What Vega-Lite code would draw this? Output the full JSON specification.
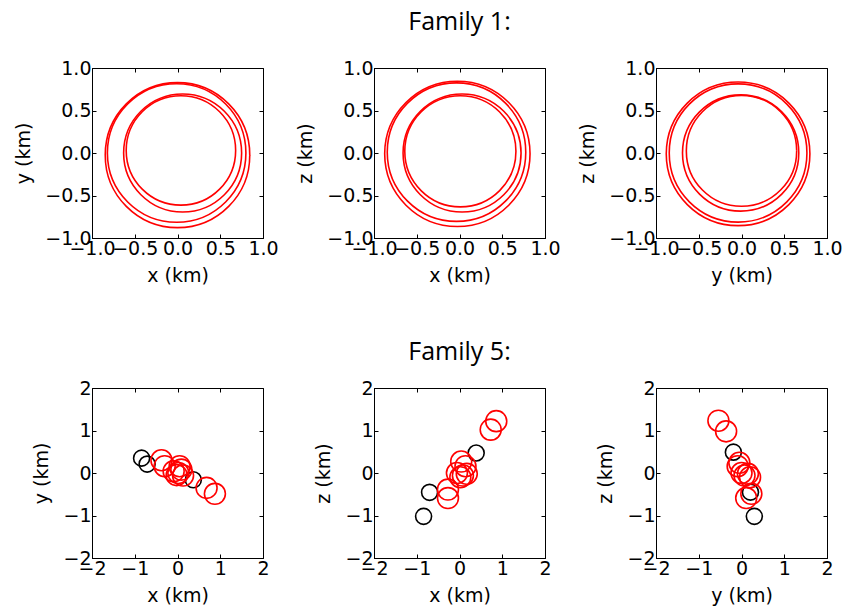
{
  "$schema": "https://vega.github.io/schema/vega-lite/v6.json",
  "background": "white",
  "padding": {"left": 14, "top": 9, "right": 5, "bottom": 5},
  "bounds": "flush",
  "columns": 3,
  "spacing": {"row": 150, "column": 111},
  "config": {
    "view": {"stroke": "#000", "strokeWidth": 1},
    "axis": {
      "labelFont": "DejaVu Sans", "labelFontSize": 19, "labelColor": "#000",
      "titleFont": "DejaVu Sans", "titleFontSize": 19, "titleFontWeight": "normal", "titleColor": "#000",
      "tickColor": "#000", "tickSize": -4, "tickWidth": 1, "domainColor": "#000",
      "grid": false, "labelOverlap": false, "labelFlush": false, "labelPadding": 5
    },
    "axisX": {"titlePadding": 8},
    "axisY": {"titlePadding": 11},
    "title": {"font": "Open Sans", "fontSize": 25, "fontWeight": "normal", "color": "#000", "anchor": "middle", "offset": 24}
  },
  "datasets": {
    "circles": [
      {"panel": "xy", "h": 0.00, "v": -0.025, "r": 0.845},
      {"panel": "xy", "h": -0.01, "v": 0.0, "r": 0.81},
      {"panel": "xy", "h": 0.06, "v": 0.0, "r": 0.69},
      {"panel": "xy", "h": 0.04, "v": 0.03, "r": 0.64},
      {"panel": "xz", "h": -0.025, "v": -0.01, "r": 0.85},
      {"panel": "xz", "h": -0.035, "v": 0.01, "r": 0.81},
      {"panel": "xz", "h": 0.03, "v": 0.0, "r": 0.69},
      {"panel": "xz", "h": 0.01, "v": 0.02, "r": 0.65},
      {"panel": "yz", "h": -0.04, "v": -0.01, "r": 0.84},
      {"panel": "yz", "h": -0.04, "v": 0.0, "r": 0.805},
      {"panel": "yz", "h": -0.01, "v": 0.0, "r": 0.68},
      {"panel": "yz", "h": 0.0, "v": 0.025, "r": 0.645}
    ],
    "points": [
      {"panel": "xy", "group": "black", "h": -0.84, "v": 0.35},
      {"panel": "xy", "group": "black", "h": -0.71, "v": 0.21},
      {"panel": "xy", "group": "black", "h": 0.37, "v": -0.16},
      {"panel": "xy", "group": "red", "h": -0.375, "v": 0.30},
      {"panel": "xy", "group": "red", "h": -0.30, "v": 0.16},
      {"panel": "xy", "group": "red", "h": -0.09, "v": 0.04},
      {"panel": "xy", "group": "red", "h": 0.05, "v": 0.16},
      {"panel": "xy", "group": "red", "h": 0.09, "v": 0.08},
      {"panel": "xy", "group": "red", "h": 0.02, "v": 0.0},
      {"panel": "xy", "group": "red", "h": 0.13, "v": -0.06},
      {"panel": "xy", "group": "red", "h": -0.02, "v": -0.05},
      {"panel": "xy", "group": "red", "h": 0.68, "v": -0.35},
      {"panel": "xy", "group": "red", "h": 0.875, "v": -0.49},
      {"panel": "xz", "group": "black", "h": -0.84, "v": -1.02},
      {"panel": "xz", "group": "black", "h": -0.70, "v": -0.455},
      {"panel": "xz", "group": "black", "h": 0.39, "v": 0.47},
      {"panel": "xz", "group": "red", "h": 0.86, "v": 1.22},
      {"panel": "xz", "group": "red", "h": 0.73, "v": 1.02},
      {"panel": "xz", "group": "red", "h": -0.27, "v": -0.39},
      {"panel": "xz", "group": "red", "h": -0.27, "v": -0.59},
      {"panel": "xz", "group": "red", "h": 0.04, "v": 0.27},
      {"panel": "xz", "group": "red", "h": 0.14, "v": 0.16},
      {"panel": "xz", "group": "red", "h": -0.06, "v": 0.0},
      {"panel": "xz", "group": "red", "h": 0.08, "v": -0.06},
      {"panel": "xz", "group": "red", "h": 0.17, "v": -0.02},
      {"panel": "xz", "group": "red", "h": 0.02, "v": -0.10},
      {"panel": "yz", "group": "black", "h": -0.19, "v": 0.49},
      {"panel": "yz", "group": "black", "h": 0.21, "v": -0.45},
      {"panel": "yz", "group": "black", "h": 0.30, "v": -1.02},
      {"panel": "yz", "group": "red", "h": -0.54, "v": 1.23},
      {"panel": "yz", "group": "red", "h": -0.36, "v": 0.98},
      {"panel": "yz", "group": "red", "h": -0.05, "v": 0.24},
      {"panel": "yz", "group": "red", "h": -0.09, "v": 0.16},
      {"panel": "yz", "group": "red", "h": 0.0, "v": 0.0},
      {"panel": "yz", "group": "red", "h": 0.15, "v": -0.02},
      {"panel": "yz", "group": "red", "h": 0.07, "v": -0.06},
      {"panel": "yz", "group": "red", "h": 0.20, "v": -0.10},
      {"panel": "yz", "group": "red", "h": 0.23, "v": -0.49},
      {"panel": "yz", "group": "red", "h": 0.11, "v": -0.59}
    ]
  },
  "concat": [
    {
      "data": {"name": "circles"}, "transform": [{"filter": "datum.panel === 'xy'"}],
      "width": 171, "height": 170,
      "layer": [
        {"mark": {"type": "point", "shape": "circle", "filled": false, "stroke": "#ff0000", "strokeWidth": 1.6, "opacity": 1},
         "encoding": {
           "x": {"field": "h", "type": "quantitative", "scale": {"domain": [-1, 1], "nice": false, "zero": false}, "axis": {"orient": "bottom", "title": "x (km)", "values": [-1, -0.5, 0, 0.5, 1], "format": ".1f"}},
           "y": {"field": "v", "type": "quantitative", "scale": {"domain": [-1, 1], "nice": false, "zero": false}, "axis": {"orient": "left", "title": "y (km)", "values": [-1, -0.5, 0, 0.5, 1], "format": ".1f"}},
           "size": {"field": "r", "type": "quantitative", "scale": {"type": "pow", "exponent": 2, "domain": [0, 1], "range": [0, 29241]}, "legend": null}
         }},
        {"mark": {"type": "point", "opacity": 0},
         "encoding": {
           "x": {"field": "h", "type": "quantitative", "scale": {"domain": [-1, 1], "nice": false, "zero": false}, "axis": {"orient": "top", "title": null, "labels": false, "domain": false, "values": [-1, -0.5, 0, 0.5, 1]}},
           "y": {"field": "v", "type": "quantitative", "scale": {"domain": [-1, 1], "nice": false, "zero": false}, "axis": {"orient": "right", "title": null, "labels": false, "domain": false, "values": [-1, -0.5, 0, 0.5, 1]}}
         }}
      ],
      "resolve": {"axis": {"x": "independent", "y": "independent"}}
    },
    {
      "title": {"text": "Family 1:", "offset": 24},
      "data": {"name": "circles"}, "transform": [{"filter": "datum.panel === 'xz'"}],
      "width": 171, "height": 170,
      "layer": [
        {"mark": {"type": "point", "shape": "circle", "filled": false, "stroke": "#ff0000", "strokeWidth": 1.6, "opacity": 1},
         "encoding": {
           "x": {"field": "h", "type": "quantitative", "scale": {"domain": [-1, 1], "nice": false, "zero": false}, "axis": {"orient": "bottom", "title": "x (km)", "values": [-1, -0.5, 0, 0.5, 1], "format": ".1f"}},
           "y": {"field": "v", "type": "quantitative", "scale": {"domain": [-1, 1], "nice": false, "zero": false}, "axis": {"orient": "left", "title": "z (km)", "values": [-1, -0.5, 0, 0.5, 1], "format": ".1f"}},
           "size": {"field": "r", "type": "quantitative", "scale": {"type": "pow", "exponent": 2, "domain": [0, 1], "range": [0, 29241]}, "legend": null}
         }},
        {"mark": {"type": "point", "opacity": 0},
         "encoding": {
           "x": {"field": "h", "type": "quantitative", "scale": {"domain": [-1, 1], "nice": false, "zero": false}, "axis": {"orient": "top", "title": null, "labels": false, "domain": false, "values": [-1, -0.5, 0, 0.5, 1]}},
           "y": {"field": "v", "type": "quantitative", "scale": {"domain": [-1, 1], "nice": false, "zero": false}, "axis": {"orient": "right", "title": null, "labels": false, "domain": false, "values": [-1, -0.5, 0, 0.5, 1]}}
         }}
      ],
      "resolve": {"axis": {"x": "independent", "y": "independent"}}
    },
    {
      "data": {"name": "circles"}, "transform": [{"filter": "datum.panel === 'yz'"}],
      "width": 171, "height": 170,
      "layer": [
        {"mark": {"type": "point", "shape": "circle", "filled": false, "stroke": "#ff0000", "strokeWidth": 1.6, "opacity": 1},
         "encoding": {
           "x": {"field": "h", "type": "quantitative", "scale": {"domain": [-1, 1], "nice": false, "zero": false}, "axis": {"orient": "bottom", "title": "y (km)", "values": [-1, -0.5, 0, 0.5, 1], "format": ".1f"}},
           "y": {"field": "v", "type": "quantitative", "scale": {"domain": [-1, 1], "nice": false, "zero": false}, "axis": {"orient": "left", "title": "z (km)", "values": [-1, -0.5, 0, 0.5, 1], "format": ".1f"}},
           "size": {"field": "r", "type": "quantitative", "scale": {"type": "pow", "exponent": 2, "domain": [0, 1], "range": [0, 29241]}, "legend": null}
         }},
        {"mark": {"type": "point", "opacity": 0},
         "encoding": {
           "x": {"field": "h", "type": "quantitative", "scale": {"domain": [-1, 1], "nice": false, "zero": false}, "axis": {"orient": "top", "title": null, "labels": false, "domain": false, "values": [-1, -0.5, 0, 0.5, 1]}},
           "y": {"field": "v", "type": "quantitative", "scale": {"domain": [-1, 1], "nice": false, "zero": false}, "axis": {"orient": "right", "title": null, "labels": false, "domain": false, "values": [-1, -0.5, 0, 0.5, 1]}}
         }}
      ],
      "resolve": {"axis": {"x": "independent", "y": "independent"}}
    },
    {
      "data": {"name": "points"}, "transform": [{"filter": "datum.panel === 'xy'"}],
      "width": 171, "height": 170,
      "layer": [
        {"mark": {"type": "point", "shape": "circle", "filled": false, "strokeWidth": 1.6, "opacity": 1},
         "encoding": {
           "x": {"field": "h", "type": "quantitative", "scale": {"domain": [-2, 2], "nice": false, "zero": false}, "axis": {"orient": "bottom", "title": "x (km)", "values": [-2, -1, 0, 1, 2], "format": "d"}},
           "y": {"field": "v", "type": "quantitative", "scale": {"domain": [-2, 2], "nice": false, "zero": false}, "axis": {"orient": "left", "title": "y (km)", "values": [-2, -1, 0, 1, 2], "format": "d"}},
           "stroke": {"field": "group", "type": "nominal", "scale": {"domain": ["black", "red"], "range": ["#000000", "#ff0000"]}, "legend": null},
           "size": {"field": "group", "type": "nominal", "scale": {"domain": ["black", "red"], "range": [256, 440]}, "legend": null}
         }},
        {"mark": {"type": "point", "opacity": 0},
         "encoding": {
           "x": {"field": "h", "type": "quantitative", "scale": {"domain": [-2, 2], "nice": false, "zero": false}, "axis": {"orient": "top", "title": null, "labels": false, "domain": false, "values": [-2, -1, 0, 1, 2]}},
           "y": {"field": "v", "type": "quantitative", "scale": {"domain": [-2, 2], "nice": false, "zero": false}, "axis": {"orient": "right", "title": null, "labels": false, "domain": false, "values": [-2, -1, 0, 1, 2]}}
         }}
      ],
      "resolve": {"axis": {"x": "independent", "y": "independent"}}
    },
    {
      "title": {"text": "Family 5:", "offset": 14},
      "data": {"name": "points"}, "transform": [{"filter": "datum.panel === 'xz'"}],
      "width": 171, "height": 170,
      "layer": [
        {"mark": {"type": "point", "shape": "circle", "filled": false, "strokeWidth": 1.6, "opacity": 1},
         "encoding": {
           "x": {"field": "h", "type": "quantitative", "scale": {"domain": [-2, 2], "nice": false, "zero": false}, "axis": {"orient": "bottom", "title": "x (km)", "values": [-2, -1, 0, 1, 2], "format": "d"}},
           "y": {"field": "v", "type": "quantitative", "scale": {"domain": [-2, 2], "nice": false, "zero": false}, "axis": {"orient": "left", "title": "z (km)", "values": [-2, -1, 0, 1, 2], "format": "d"}},
           "stroke": {"field": "group", "type": "nominal", "scale": {"domain": ["black", "red"], "range": ["#000000", "#ff0000"]}, "legend": null},
           "size": {"field": "group", "type": "nominal", "scale": {"domain": ["black", "red"], "range": [256, 440]}, "legend": null}
         }},
        {"mark": {"type": "point", "opacity": 0},
         "encoding": {
           "x": {"field": "h", "type": "quantitative", "scale": {"domain": [-2, 2], "nice": false, "zero": false}, "axis": {"orient": "top", "title": null, "labels": false, "domain": false, "values": [-2, -1, 0, 1, 2]}},
           "y": {"field": "v", "type": "quantitative", "scale": {"domain": [-2, 2], "nice": false, "zero": false}, "axis": {"orient": "right", "title": null, "labels": false, "domain": false, "values": [-2, -1, 0, 1, 2]}}
         }}
      ],
      "resolve": {"axis": {"x": "independent", "y": "independent"}}
    },
    {
      "data": {"name": "points"}, "transform": [{"filter": "datum.panel === 'yz'"}],
      "width": 171, "height": 170,
      "layer": [
        {"mark": {"type": "point", "shape": "circle", "filled": false, "strokeWidth": 1.6, "opacity": 1},
         "encoding": {
           "x": {"field": "h", "type": "quantitative", "scale": {"domain": [-2, 2], "nice": false, "zero": false}, "axis": {"orient": "bottom", "title": "y (km)", "values": [-2, -1, 0, 1, 2], "format": "d"}},
           "y": {"field": "v", "type": "quantitative", "scale": {"domain": [-2, 2], "nice": false, "zero": false}, "axis": {"orient": "left", "title": "z (km)", "values": [-2, -1, 0, 1, 2], "format": "d"}},
           "stroke": {"field": "group", "type": "nominal", "scale": {"domain": ["black", "red"], "range": ["#000000", "#ff0000"]}, "legend": null},
           "size": {"field": "group", "type": "nominal", "scale": {"domain": ["black", "red"], "range": [256, 440]}, "legend": null}
         }},
        {"mark": {"type": "point", "opacity": 0},
         "encoding": {
           "x": {"field": "h", "type": "quantitative", "scale": {"domain": [-2, 2], "nice": false, "zero": false}, "axis": {"orient": "top", "title": null, "labels": false, "domain": false, "values": [-2, -1, 0, 1, 2]}},
           "y": {"field": "v", "type": "quantitative", "scale": {"domain": [-2, 2], "nice": false, "zero": false}, "axis": {"orient": "right", "title": null, "labels": false, "domain": false, "values": [-2, -1, 0, 1, 2]}}
         }}
      ],
      "resolve": {"axis": {"x": "independent", "y": "independent"}}
    }
  ]
}
